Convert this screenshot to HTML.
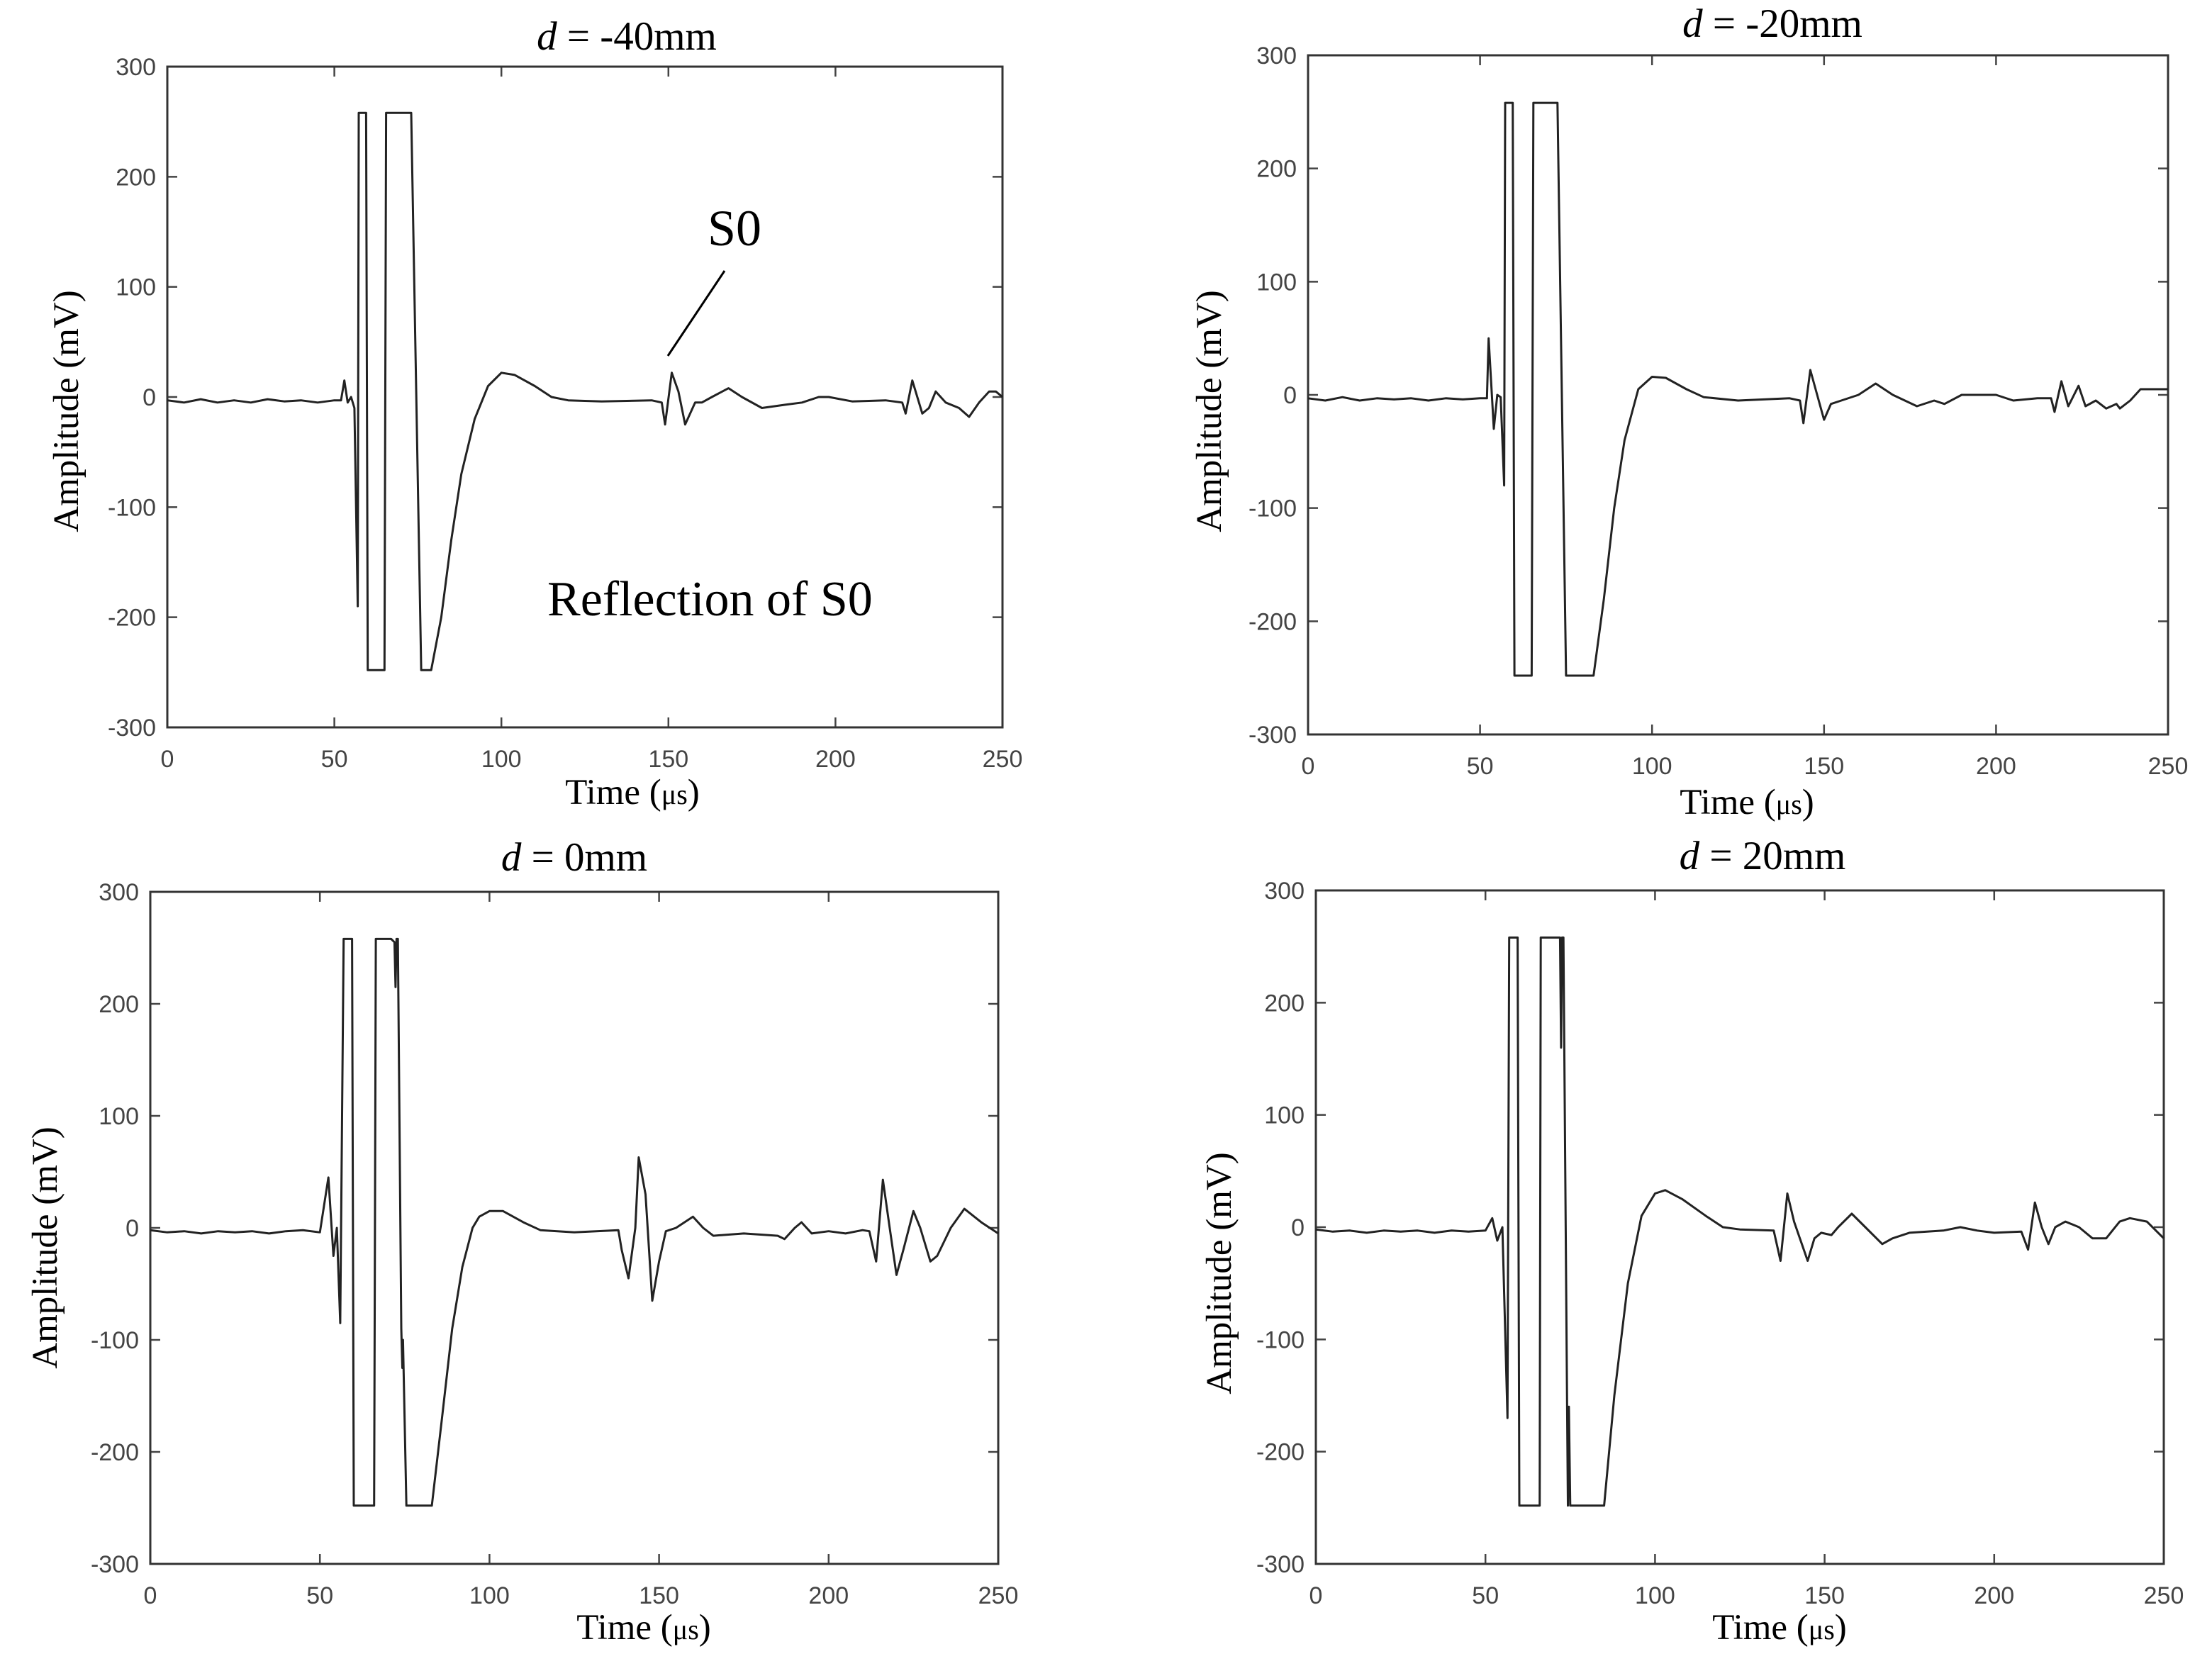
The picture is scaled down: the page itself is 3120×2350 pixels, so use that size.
<!DOCTYPE html>
<html><head><meta charset="utf-8"><style>
html,body{margin:0;padding:0;background:#fff}
svg{display:block}
.tick{font-family:"Liberation Sans",sans-serif;font-size:34px;fill:#444}
.lab{font-family:"Liberation Serif",serif;font-size:51px;fill:#000}
</style></head><body>
<svg id="fig" width="3120" height="2350" viewBox="0 0 3120 2350" xmlns="http://www.w3.org/2000/svg"></svg>
<script>
// ---- data ----
const xTicks=[0,50,100,150,200,250];
const yTicks=[300,200,100,0,-100,-200,-300];
const titles=["-40mm","-20mm","0mm","20mm"];
const t1=[0,5,10,15,20,25,30,35,40,45,50,52,53,54,55,56,57,57.3,59,59.5,60,65,65.5,66,72,73,76,79,82,85,88,92,96,100,104,110,115,120,130,145,148,149,151,153,155,158,160,163,168,172,178,185,190,195,198,205,215,220,221,223,226,228,230,233,237,240,243,246,248,250];
const v1=[-3,-5,-2,-5,-3,-5,-2,-4,-3,-5,-3,-3,15,-5,0,-10,-190,258,258,258,-248,-248,258,258,258,258,-248,-248,-200,-130,-70,-20,10,22,20,10,0,-3,-4,-3,-5,-25,22,5,-25,-5,-5,0,8,0,-10,-7,-5,0,0,-4,-3,-5,-15,15,-15,-10,5,-5,-10,-18,-5,5,5,0];
const t2=[0,5,10,15,20,25,30,35,40,45,50,52,52.5,54,55,56,57,57.3,59,59.5,60,65,65.5,66,72,72.5,75,83,86,89,92,96,100,104,110,115,125,140,143,144,146,148,150,152,155,160,165,170,177,182,185,190,200,205,212,216,217,219,221,224,226,229,232,235,236,239,242,250];
const v2=[-3,-5,-2,-5,-3,-4,-3,-5,-3,-4,-3,-3,50,-30,0,-2,-80,258,258,258,-248,-248,258,258,258,258,-248,-248,-180,-100,-40,5,16,15,5,-2,-5,-3,-5,-25,22,0,-22,-8,-5,0,10,0,-10,-5,-8,0,0,-5,-3,-3,-15,12,-10,8,-10,-5,-12,-8,-12,-5,5,5];
const t3=[0,5,10,15,20,25,30,35,40,45,50,52.5,54,55,56,57,59,59.5,60,66,66.5,67,71,72,72.3,72.6,73,74,74.3,74.5,75.5,83,86,89,92,95,97,100,104,110,115,125,138,139,141,143,144,146,148,150,152,155,160,163,166,175,185,187,190,192,195,200,205,210,212,214,216,218,220,222,225,227,230,232,236,240,245,250];
const v3=[-2,-4,-3,-5,-3,-4,-3,-5,-3,-2,-4,45,-25,0,-85,258,258,258,-248,-248,258,258,258,255,215,258,258,-90,-125,-100,-248,-248,-170,-90,-35,0,10,15,15,5,-2,-4,-2,-20,-45,0,63,30,-65,-30,-3,0,10,0,-7,-5,-7,-10,0,5,-5,-3,-5,-2,-3,-30,43,0,-42,-20,15,0,-30,-25,0,17,5,-5];
const t4=[0,5,10,15,20,25,30,35,40,45,50,52,53.5,55,56.5,57,59,59.5,60,66,66.3,66.5,72,72.3,72.6,73,74,74.3,74.6,75,85,88,92,96,100,103,108,115,120,125,135,137,139,141,145,147,149,152,154,158,162,167,170,175,185,190,195,200,208,210,212,214,216,218,221,225,229,233,237,240,245,250];
const v4=[-2,-4,-3,-5,-3,-4,-3,-5,-3,-4,-3,8,-12,0,-170,258,258,258,-248,-248,258,258,258,160,258,258,-130,-248,-160,-248,-248,-150,-50,10,30,33,25,10,0,-2,-3,-30,30,5,-30,-10,-5,-7,0,12,0,-15,-10,-5,-3,0,-3,-5,-4,-20,22,0,-15,0,5,0,-10,-10,5,8,5,-10];
const series=[[t1,v1],[t2,v2],[t3,v3],[t4,v4]];
// ---- layout ----
const P=[
 {L:236,R:1414,T:94,B:1026,tx:884,ty:70,ylx:110,yly:580,xlx:892,xly:1134},
 {L:1845,R:3058,T:78,B:1036,tx:2500,ty:52,ylx:1722,yly:580,xlx:2464,xly:1148},
 {L:212,R:1408,T:1258,B:2206,tx:810,ty:1228,ylx:80,yly:1760,xlx:908,xly:2312},
 {L:1856,R:3052,T:1256,B:2206,tx:2486,ty:1226,ylx:1736,yly:1796,xlx:2510,xly:2312}
];
const NS="http://www.w3.org/2000/svg";
const svg=document.getElementById('fig');
function mk(tag,attrs,parent){const e=document.createElementNS(NS,tag);for(const k in attrs)e.setAttribute(k,attrs[k]);(parent||svg).appendChild(e);return e;}
P.forEach((p,i)=>{
 const g=mk('g',{});
 
 
 const sx=t=>p.L+(t-0)/250*(p.R-p.L);
 const sy=v=>p.B-(v+300)/600*(p.B-p.T);
 xTicks.forEach(t=>{
  const x=sx(t);
  const tk=mk('path',{d:`M${x},${p.B}v-14M${x},${p.T}v14`,stroke:'#444','stroke-width':2.5},g);
  
  
  const tl=mk('text',{x:x,y:p.B+56,'text-anchor':'middle',class:'tick'},g);
  tl.textContent=t;
  
  
 });
 yTicks.forEach(v=>{
  const y=sy(v);
  const tk=mk('path',{d:`M${p.L},${y}h14M${p.R},${y}h-14`,stroke:'#444','stroke-width':2.5},g);
  
  
  const tl=mk('text',{x:p.L-16,y:y+12,'text-anchor':'end',class:'tick'},g);
  tl.textContent=v;
  
  
 });
 const box=mk('rect',{x:p.L,y:p.T,width:p.R-p.L,height:p.B-p.T,fill:'none',stroke:'#333','stroke-width':3},g);
 
 
 const [ts,vs]=series[i];
 let d='';
 ts.forEach((t,k)=>{d+=(k?'L':'M')+sx(t).toFixed(1)+','+sy(vs[k]).toFixed(1);});
 const ln=mk('path',{d:d,fill:'none',stroke:'#222','stroke-width':3,'stroke-linejoin':'round'},g);
 
 
 const ti=mk('text',{x:p.tx,y:p.ty,'text-anchor':'middle',class:'lab',style:'font-size:57px'},g);
 ti.innerHTML='<tspan font-style="italic">d</tspan> = '+titles[i];
 
 
 const xl=mk('text',{x:p.xlx,y:p.xly,'text-anchor':'middle',class:'lab'},g);
 xl.innerHTML='Time (<tspan style="font-size:40px">μs</tspan>)';
 
 
 const yl=mk('text',{x:0,y:0,'text-anchor':'middle',class:'lab',transform:`translate(${p.ylx},${p.yly}) rotate(-90)`},g);
 yl.textContent='Amplitude (mV)';
 
 
});
const a1=mk('text',{x:1036,y:346,'text-anchor':'middle',class:'lab',style:'font-size:72px'});
a1.textContent='S0';


const a2=mk('path',{d:'M1022,382L942,502',stroke:'#000','stroke-width':3});


const a3=mk('text',{x:772,y:868,class:'lab',style:'font-size:70px'});
a3.textContent='Reflection of S0';


</script>
</body></html>
